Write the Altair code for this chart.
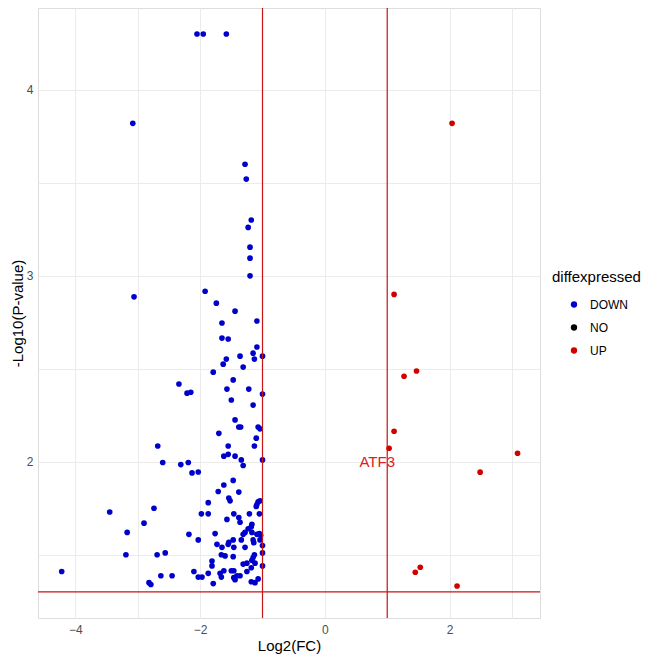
import altair as alt
import pandas as pd

# DOWN-regulated genes (log2FC, -log10 p)
down_x = [-2.05, -1.95, -1.58, -3.08, -1.28, -1.26, -1.18, -1.23, -1.20, -1.20,
          -1.20, -3.06, -1.92, -1.74, -1.44, -1.65, -1.09, -1.65, -1.55, -1.09,
          -1.15, -1.00, -1.13, -1.36, -1.58, -1.63, -1.31, -1.79, -1.47, -2.34,
          -2.21, -2.15, -1.57, -1.22, -1.00, -1.50, -1.15, -1.44, -1.38, -1.35,
          -1.07, -1.04, -1.70, -1.10, -2.68, -1.55, -1.13, -1.62, -1.55, -1.44,
          -1.34, -1.00, -2.60, -2.31, -2.19, -1.31, -2.13, -2.03, -1.47, -1.62,
          -1.71, -1.38, -1.54, -1.52, -1.87, -1.04, -1.07, -1.09, -1.10, -3.45,
          -2.74, -1.98, -1.87, -1.46, -1.21, -1.05, -1.57, -1.38, -1.36, -2.90,
          -1.17, -1.18, -1.23, -1.28, -1.31, -3.17, -2.18, -1.76, -1.17, -1.09,
          -1.05, -2.03, -1.34, -1.15, -1.04, -1.54, -1.55, -1.73, -1.65, -1.46,
          -1.28, -1.00, -1.00, -3.19, -2.69, -2.56, -1.66, -1.60, -1.47, -1.13,
          -1.15, -1.17, -1.81, -1.81, -1.31, -1.25, -1.12, -1.18, -1.00, -2.10,
          -1.87, -1.68, -1.62, -1.50, -1.46, -1.25, -2.63, -2.45, -2.03, -1.97,
          -1.66, -1.46, -1.44, -1.41, -1.36, -1.07, -1.18, -1.12, -1.79, -2.82,
          -2.79, -4.22, -1.47, -1.03, -1.14]
down_y = [4.30, 4.30, 4.30, 3.82, 3.60, 3.52, 3.30, 3.26, 3.154, 3.095,
          3.00, 2.887, 2.917, 2.853, 2.81, 2.746, 2.757, 2.665, 2.66, 2.617,
          2.584, 2.568, 2.552, 2.568, 2.552, 2.525, 2.509, 2.482, 2.44, 2.418,
          2.369, 2.374, 2.391, 2.391, 2.364, 2.332, 2.305, 2.225, 2.187, 2.187,
          2.187, 2.177, 2.153, 2.127, 2.085, 2.085, 2.085, 2.03, 2.04, 2.03,
          2.01, 2.01, 1.996, 1.985, 1.996, 1.98, 1.94, 1.945, 1.90, 1.875,
          1.84, 1.837, 1.805, 1.79, 1.78, 1.79, 1.785, 1.77, 1.76, 1.73,
          1.75, 1.72, 1.72, 1.72, 1.72, 1.72, 1.69, 1.70, 1.675, 1.67,
          1.664, 1.65, 1.64, 1.62, 1.61, 1.62, 1.61, 1.614, 1.62, 1.61,
          1.614, 1.58, 1.58, 1.58, 1.58, 1.567, 1.556, 1.556, 1.54, 1.54,
          1.54, 1.55, 1.51, 1.50, 1.50, 1.51, 1.50, 1.494, 1.49, 1.50,
          1.485, 1.47, 1.466, 1.44, 1.45, 1.455, 1.455, 1.43, 1.44, 1.41,
          1.40, 1.40, 1.414, 1.414, 1.414, 1.41, 1.387, 1.387, 1.38, 1.38,
          1.38, 1.377, 1.366, 1.387, 1.387, 1.37, 1.355, 1.35, 1.345, 1.35,
          1.34, 1.41, 1.58, 1.605, 1.565]

# UP-regulated genes
up_x = [2.04, 1.11, 1.27, 1.47, 1.11, 1.03, 3.09, 2.49, 1.45, 1.53, 2.12]
up_y = [3.82, 2.90, 2.46, 2.488, 2.164, 2.073, 2.046, 1.944, 1.406, 1.433, 1.332]

# labelled gene
label_text = ["ATF3"]
label_x = [0.84]
label_y = [2.0]

# thresholds
vline_x = [-1, 1]
hline_y = [1.301]

categories = ["DOWN", "NO", "UP"]
cat_colors = ["#0000CC", "#000000", "#D00000"]

df = pd.concat([
    pd.DataFrame({"x": down_x, "y": down_y, "diffexpressed": "DOWN"}),
    pd.DataFrame({"x": up_x, "y": up_y, "diffexpressed": "UP"}),
], ignore_index=True)
lab_df = pd.DataFrame({"x": label_x, "y": label_y, "text": label_text})
vdf = pd.DataFrame({"x": vline_x})
hdf = pd.DataFrame({"y": hline_y})

FONT = "Liberation Sans"
xscale = alt.Scale(domain=[-4.6, 3.45], nice=False, zero=False)
yscale = alt.Scale(domain=[1.16, 4.44], nice=False, zero=False)

xaxis = alt.Axis(title="Log2(FC)", values=[-4, -3, -2, -1, 0, 1, 2, 3],
                 labelExpr="datum.value % 2 == 0 ? format(datum.value, 'd') : ''",
                 grid=True, gridColor="#EBEBEB", ticks=False, domain=False,
                 labelColor="#4D4D4D", labelFontSize=12, labelFont=FONT,
                 labelPadding=6, titleFont=FONT, titleFontSize=15,
                 titleFontWeight="normal", titleColor="#000000", titlePadding=3)
yaxis = alt.Axis(title="-Log10(P-value)", values=[1.5, 2, 2.5, 3, 3.5, 4],
                 labelExpr="datum.value % 1 == 0 ? format(datum.value, 'd') : ''",
                 grid=True, gridColor="#EBEBEB", ticks=False, domain=False,
                 labelColor="#4D4D4D", labelFontSize=12, labelFont=FONT,
                 labelPadding=5, titleFont=FONT, titleFontSize=15,
                 titleFontWeight="normal", titleColor="#000000", titlePadding=1)

points = alt.Chart(df).mark_circle(size=32, opacity=1).encode(
    x=alt.X("x:Q", scale=xscale, axis=xaxis),
    y=alt.Y("y:Q", scale=yscale, axis=yaxis),
    color=alt.Color("diffexpressed:N",
                    scale=alt.Scale(domain=categories, range=cat_colors),
                    legend=alt.Legend(title="diffexpressed", orient="none",
                                      legendX=514, legendY=262,
                                      titleFont=FONT, titleFontSize=15,
                                      titleFontWeight="normal", titleColor="#000000",
                                      titlePadding=8,
                                      labelFont=FONT, labelFontSize=12,
                                      labelColor="#000000", labelOffset=10,
                                      symbolType="circle", symbolSize=40,
                                      symbolOffset=16, rowPadding=0,
                                      clipHeight=23)),
)

labels = alt.Chart(lab_df).mark_text(font=FONT, fontSize=15, color="#E0201E").encode(
    x=alt.X("x:Q", scale=xscale),
    y=alt.Y("y:Q", scale=yscale),
    text="text:N",
)

vlines = alt.Chart(vdf).mark_rule(color="#C81414", strokeWidth=1.2).encode(
    x=alt.X("x:Q", scale=xscale))
hlines = alt.Chart(hdf).mark_rule(color="#C81414", strokeWidth=1.2).encode(
    y=alt.Y("y:Q", scale=yscale))

chart = alt.layer(points, labels, vlines, hlines).properties(
    width=502, height=610,
    autosize=alt.AutoSizeParams(type="none"),
    padding={"left": 30, "top": 0, "right": 116, "bottom": 38},
).configure_view(strokeWidth=0, stroke="transparent").configure(background="#FFFFFF")

chart.save("out.html", embed_options={"renderer": "svg", "actions": False})
